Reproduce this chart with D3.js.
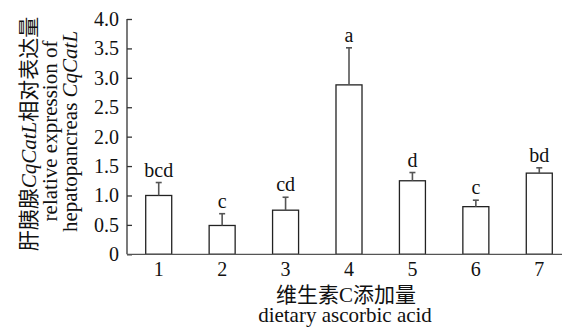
<!DOCTYPE html>
<meta charset="utf-8">
<head>
	<title>CqCatL relative expression</title>
</head>
<style>
	body { margin: 0; background: #fff; }
	text { font-family: "Liberation Serif", "Times New Roman", "Noto Sans CJK SC", serif; fill: #111; }
</style>
<body>
	<svg width="562" height="328"></svg>

	<script src="https://cdnjs.cloudflare.com/ajax/libs/d3/7.8.5/d3.min.js"></script>
	<script>

		// data
		var groups = ["1", "2", "3", "4", "5", "6", "7"];
		var means = [1.00, 0.49, 0.75, 2.88, 1.25, 0.81, 1.38];
		var errTops = [1.22, 0.69, 0.97, 3.51, 1.39, 0.92, 1.47];
		var letters = ["bcd", "c", "cd", "a", "d", "c", "bd"];
		var yTicks = [0, 0.5, 1.0, 1.5, 2.0, 2.5, 3.0, 3.5, 4.0];

		var svg = d3.select("svg");
		var plotLeft = 127, plotRight = 571, plotTop = 19, plotBottom = 254.3;

		var x = d3.scaleBand()
			.domain(groups)
			.range([plotLeft, plotRight])
			.paddingInner(0.59)
			.paddingOuter(0.295);

		var y = d3.scaleLinear()
			.domain([0, 4])
			.range([plotBottom, plotTop]);

		// y axis, ticks point inward
		var yAxis = d3.axisLeft(y)
			.tickValues(yTicks)
			.tickSize(-5)
			.tickPadding(8)
			.tickFormat(function(d) { return d === 0 ? "0" : d3.format(".1f")(d); });

		var gy = svg.append("g")
			.attr("transform", "translate(" + plotLeft + ",0)")
			.call(yAxis);
		gy.select(".domain").remove();
		gy.append("line")
			.attr("x1", 0).attr("x2", 0)
			.attr("y1", y(4)).attr("y2", y(0))
			.attr("stroke", "#333").attr("stroke-width", 1.3);
		gy.selectAll(".tick line").attr("stroke", "#333").attr("stroke-width", 1.3);
		gy.selectAll(".tick text").style("font-size", "20px").attr("fill", "#111");

		// bars
		svg.selectAll("rect.bar")
			.data(groups)
			.enter().append("rect")
			.attr("class", "bar")
			.attr("x", function(d) { return x(d); })
			.attr("width", x.bandwidth())
			.attr("y", function(d, i) { return y(means[i]); })
			.attr("height", function(d, i) { return y(0) - y(means[i]); })
			.attr("fill", "#fff")
			.attr("stroke", "#222")
			.attr("stroke-width", 1.3);

		// error bars (upper only)
		var eb = svg.selectAll("g.err")
			.data(groups)
			.enter().append("g")
			.attr("class", "err")
			.attr("transform", function(d) { return "translate(" + (x(d) + x.bandwidth() / 2) + ",0)"; });
		eb.append("line")
			.attr("x1", 0).attr("x2", 0)
			.attr("y1", function(d, i) { return y(means[i]); })
			.attr("y2", function(d, i) { return y(errTops[i]); })
			.attr("stroke", "#555").attr("stroke-width", 1.6);
		eb.append("line")
			.attr("x1", -3).attr("x2", 3)
			.attr("y1", function(d, i) { return y(errTops[i]); })
			.attr("y2", function(d, i) { return y(errTops[i]); })
			.attr("stroke", "#555").attr("stroke-width", 1.6);

		// significance letters
		svg.selectAll("text.sig")
			.data(groups)
			.enter().append("text")
			.attr("class", "sig")
			.attr("x", function(d) { return x(d) + x.bandwidth() / 2; })
			.attr("y", function(d, i) { return y(errTops[i]) - 6; })
			.attr("text-anchor", "middle")
			.style("font-size", "20px")
			.text(function(d, i) { return letters[i]; });

		// x axis: plain line, labels under bars
		var xAxis = d3.axisBottom(x).tickSize(0).tickPadding(7.5);
		var gx = svg.append("g")
			.attr("transform", "translate(0," + plotBottom + ")")
			.call(xAxis);
		gx.select(".domain").remove();
		gx.append("line")
			.attr("x1", plotLeft).attr("x2", 562)
			.attr("y1", 0).attr("y2", 0)
			.attr("stroke", "#555").attr("stroke-width", 1.3);
		gx.selectAll(".tick text").style("font-size", "20px").attr("fill", "#111");

		// x title
		svg.append("text")
			.attr("x", 346).attr("y", 302)
			.attr("text-anchor", "middle")
			.style("font-size", "21px")
			.text("维生素C添加量");
		svg.append("text")
			.attr("x", 345).attr("y", 322)
			.attr("text-anchor", "middle")
			.style("font-size", "21px")
			.text("dietary ascorbic acid");

		// y title, three rotated lines
		var t1 = svg.append("text")
			.attr("transform", "translate(36,134) rotate(-90)")
			.attr("text-anchor", "middle")
			.style("font-size", "21px");
		t1.append("tspan").text("肝胰腺");
		t1.append("tspan").style("font-style", "italic").text("CqCatL");
		t1.append("tspan").text("相对表达量");

		svg.append("text")
			.attr("transform", "translate(57,131) rotate(-90)")
			.attr("text-anchor", "middle")
			.style("font-size", "21px")
			.text("relative expression of");

		var t3 = svg.append("text")
			.attr("transform", "translate(77,131.5) rotate(-90)")
			.attr("text-anchor", "middle")
			.style("font-size", "21px");
		t3.append("tspan").text("hepatopancreas ");
		t3.append("tspan").style("font-style", "italic").text("CqCatL");

	</script>
</body>
</html>
